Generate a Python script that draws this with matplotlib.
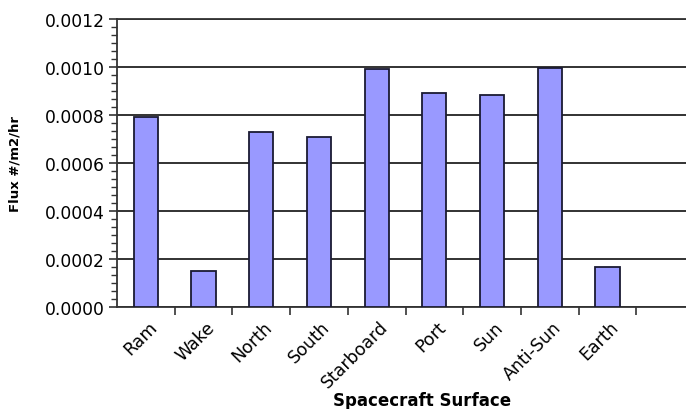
import matplotlib
matplotlib.use("Agg")
import matplotlib.pyplot as plt
import matplotlib.transforms as mtransforms
from matplotlib.ticker import MultipleLocator, FormatStrFormatter
import numpy as np

# Flux per spacecraft surface
surfaces = ["Ram", "Wake", "North", "South", "Starboard", "Port", "Sun", "Anti-Sun", "Earth", ""]
flux = [0.00079, 0.00015, 0.00073, 0.00071, 0.00099, 0.00089, 0.000885, 0.000995, 0.000165, np.nan]

plt.rcParams["font.family"] = ["DejaVu Sans"]

fig = plt.figure(figsize=(6.86, 4.10), dpi=100)
ax = fig.add_axes([117 / 686, 102 / 410, 577 / 686, 288 / 410])

x = np.arange(len(surfaces))
ax.bar(x + 0.5, flux, width=0.42, color="#9999FF", edgecolor="#1a1a33", linewidth=1.3, zorder=3)

ax.set_xlim(0, len(surfaces))
ax.set_ylim(0, 0.0012)

# y axis: major every 0.0002, minor ticks between
ax.yaxis.set_major_locator(MultipleLocator(0.0002))
ax.yaxis.set_minor_locator(MultipleLocator(0.0002 / 6))
ax.yaxis.set_major_formatter(FormatStrFormatter("%.4f"))
ax.tick_params(axis="y", which="major", length=6, width=1.2, color="#333333", labelsize=12.3, pad=3)
ax.tick_params(axis="y", which="minor", length=4, width=1.0, color="#333333")
ax.yaxis.grid(True, which="major", color="#222222", linewidth=1.3, zorder=1)

# x axis: ticks at category boundaries, labels at category centres
ax.set_xticks(np.arange(1, len(surfaces)))
ax.set_xticks(x + 0.5, minor=True)
ax.set_xticklabels([], minor=False)
ax.set_xticklabels(surfaces, minor=True, rotation=45, ha="right",
                   rotation_mode="anchor", fontsize=12.5)
ax.tick_params(axis="x", which="major", length=6, width=1.2, color="#333333")
ax.tick_params(axis="x", which="minor", length=0, pad=4)
offset = mtransforms.ScaledTranslation(2 / 100, -5 / 100, fig.dpi_scale_trans)
for lbl in ax.xaxis.get_minorticklabels():
    lbl.set_transform(lbl.get_transform() + offset)

for side in ("left", "bottom", "top"):
    ax.spines[side].set_color("#333333")
    ax.spines[side].set_linewidth(1.3)
ax.spines["right"].set_visible(False)

ax.set_ylabel("Flux #/m2/hr", fontsize=9.5, fontweight="bold")
ax.yaxis.set_label_coords(-(117 - 21) / 577, 0.5)
ax.set_xlabel("Spacecraft Surface", fontsize=12, fontweight="bold")
ax.xaxis.set_label_coords((422 - 117) / 577, -(392 - 308) / 288)

fig.savefig("out.png", dpi=100)
